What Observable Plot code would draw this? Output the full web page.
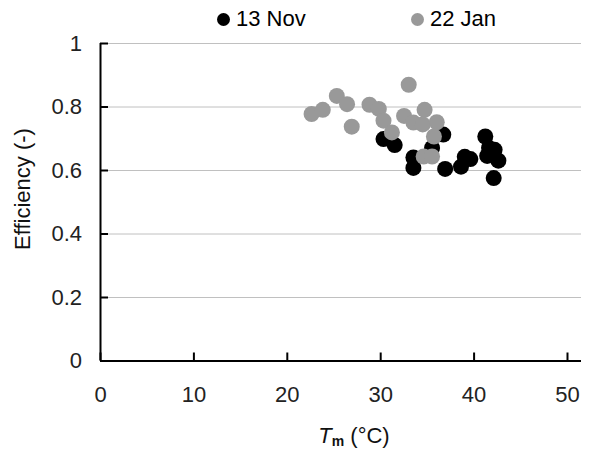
<!DOCTYPE html>
<html>
<head>
<meta charset="utf-8">
<script src="https://cdn.jsdelivr.net/npm/d3@7"></script>
<script src="https://cdn.jsdelivr.net/npm/@observablehq/plot@0.6"></script>
<style>
  html, body { margin: 0; padding: 0; background: #fff; }
  body { width: 596px; height: 450px; overflow: hidden; font-family: "Liberation Sans", Arial, sans-serif; }
  #legend { position: relative; height: 30px; width: 596px; font-size: 22px; color: #000; }
  .item { position: absolute; top: 6px; display: flex; align-items: center; height: 26px; }
  .dot { width: 13px; height: 13px; border-radius: 50%; margin-right: 6px; }
  #chart svg { display: block; }
</style>
</head>
<body>
<div id="legend"></div>
<div id="chart"></div>
<script>
// Series names and colours
const seriesNames = ["13 Nov", "22 Jan"];
const seriesColors = ["#000000", "#999999"];

// 13 Nov: mean temperature Tm (°C) and efficiency (-)
const novT   = [30.3, 31.5, 33.5, 33.5, 35.5, 36.7, 36.9, 38.6, 39.0, 39.6, 41.2, 41.6, 42.2, 42.6, 42.1, 41.4];
const novEff = [0.699, 0.680, 0.641, 0.608, 0.671, 0.713, 0.605, 0.612, 0.643, 0.636, 0.707, 0.671, 0.665, 0.631, 0.576, 0.646];

// 22 Jan
const janT   = [22.6, 23.8, 25.3, 26.4, 26.9, 28.8, 29.8, 30.3, 31.2, 33.0, 32.5, 33.5, 34.7, 34.5, 36.0, 35.7, 34.6, 35.5];
const janEff = [0.778, 0.791, 0.835, 0.809, 0.738, 0.807, 0.794, 0.757, 0.720, 0.870, 0.772, 0.751, 0.791, 0.745, 0.752, 0.707, 0.644, 0.644];

// Axis extent and tick values
const xDomain = [0, 51.5];
const xTicks = [0, 10, 20, 30, 40, 50];
const yTicks = [0, 0.2, 0.4, 0.6, 0.8, 1];

const nov = novT.map((t, i) => ({t, e: novEff[i]}));
const jan = janT.map((t, i) => ({t, e: janEff[i]}));

// Legend
const legend = document.getElementById("legend");
const legendLeft = [217, 411];
seriesNames.forEach((name, i) => {
  const item = document.createElement("div");
  item.className = "item";
  item.style.left = legendLeft[i] + "px";
  const dot = document.createElement("span");
  dot.className = "dot";
  dot.style.background = seriesColors[i];
  const label = document.createElement("span");
  label.textContent = name;
  item.appendChild(dot);
  item.appendChild(label);
  legend.appendChild(item);
});

const plot = Plot.plot({
  width: 596,
  height: 420,
  marginTop: 13,
  marginBottom: 89.5,
  marginLeft: 100,
  marginRight: 15,
  style: {fontFamily: "'Liberation Sans', Arial, sans-serif", fontSize: "22px", color: "#000", background: "#fff"},
  x: {domain: xDomain, label: null},
  y: {domain: [0, 1], label: null},
  marks: [
    Plot.ruleY(yTicks.filter(d => d > 0), {stroke: "#c0c0c0", strokeWidth: 1}),
    Plot.axisX(xTicks, {tickSize: -8, tickPadding: 33.5, strokeWidth: 2, label: null, fill: "#222"}),
    Plot.axisY(yTicks, {tickSize: -8, tickPadding: 26.5, strokeWidth: 2, label: null, fill: "#222", tickFormat: d => String(d)}),
    Plot.ruleX([0], {stroke: "#000", strokeWidth: 2}),
    Plot.ruleY([0], {stroke: "#000", strokeWidth: 2}),
    Plot.dot(nov, {x: "t", y: "e", r: 8, fill: seriesColors[0], stroke: "none"}),
    Plot.dot(jan, {x: "t", y: "e", r: 8, fill: seriesColors[1], stroke: "none"})
  ]
});
document.getElementById("chart").appendChild(plot);

// Axis titles (x title has a subscript)
const svg = d3.select(plot);
const xl = svg.append("text")
  .attr("x", 354).attr("y", 413)
  .attr("text-anchor", "middle")
  .attr("fill", "#111")
  .style("font-size", "22px");
xl.append("tspan").attr("font-style", "italic").text("T");
xl.append("tspan").attr("font-size", "14px").attr("font-weight", "bold").attr("dy", 3).text("m");
xl.append("tspan").attr("dy", -3).text(" (°C)");

svg.append("text")
  .attr("transform", "translate(30,159) rotate(-90)")
  .attr("text-anchor", "middle")
  .attr("fill", "#111")
  .style("font-size", "22px")
  .text("Efficiency (-)");
</script>
</body>
</html>
